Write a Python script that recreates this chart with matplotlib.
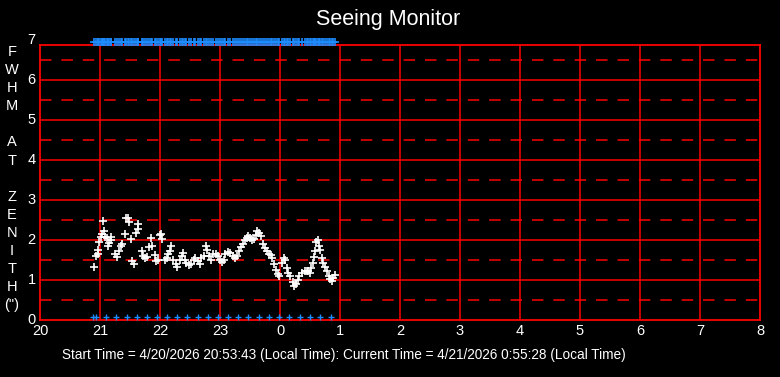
import matplotlib
matplotlib.use("Agg")
import matplotlib.pyplot as plt
import matplotlib.transforms as mtransforms

plt.rcParams['font.family'] = ['Liberation Sans', 'DejaVu Sans']

# seeing samples: local time in hours (past midnight > 24) and FWHM in arcsec
hours = [20.905, 20.93, 20.96, 20.97, 20.99, 21.01, 21.03, 21.05, 21.07, 21.09,
         21.12, 21.14, 21.15, 21.18, 21.19, 21.25, 21.28, 21.31, 21.35, 21.36,
         21.41, 21.43, 21.46, 21.49, 21.51, 21.53, 21.56, 21.60, 21.63, 21.64,
         21.70, 21.72, 21.75, 21.78, 21.81, 21.85, 21.87, 21.91, 21.93, 21.97,
         22.00, 22.02, 22.04, 22.08, 22.11, 22.14, 22.17, 22.18, 22.22, 22.26,
         22.29, 22.33, 22.36, 22.39, 22.42, 22.44, 22.48, 22.52, 22.56, 22.58,
         22.63, 22.66, 22.69, 22.73, 22.76, 22.79, 22.82, 22.85, 22.89, 22.93,
         22.96, 23.00, 23.03, 23.06, 23.09, 23.13, 23.17, 23.21, 23.25, 23.28,
         23.32, 23.35, 23.38, 23.41, 23.45, 23.47, 23.50, 23.54, 23.57, 23.60,
         23.62, 23.65, 23.68, 23.72, 23.75, 23.78, 23.81, 23.85, 23.87, 23.90,
         23.93, 23.96, 23.98, 24.03, 24.06, 24.08, 24.11, 24.14, 24.17, 24.21,
         24.24, 24.27, 24.30, 24.32, 24.36, 24.41, 24.45, 24.47, 24.50, 24.52,
         24.55, 24.57, 24.58, 24.60, 24.63, 24.65, 24.67, 24.70, 24.72, 24.75,
         24.78, 24.81, 24.83, 24.86, 24.89, 24.92]
fwhm = [1.33, 1.59, 1.66, 1.75, 1.96, 2.08, 2.14, 2.48, 2.22, 2.08,
        2.06, 1.85, 1.93, 2.07, 1.99, 1.64, 1.57, 1.72, 1.85, 1.89,
        2.14, 2.56, 2.54, 2.46, 2.03, 1.47, 1.39, 2.18, 2.27, 2.41,
        1.72, 1.59, 1.55, 1.58, 1.83, 2.06, 1.85, 1.62, 1.47, 1.49,
        2.12, 2.16, 2.03, 1.49, 1.54, 1.64, 1.72, 1.85, 1.51, 1.39,
        1.33, 1.51, 1.59, 1.68, 1.51, 1.43, 1.37, 1.39, 1.51, 1.55,
        1.47, 1.40, 1.55, 1.59, 1.85, 1.76, 1.59, 1.51, 1.64, 1.64,
        1.59, 1.51, 1.45, 1.51, 1.64, 1.70, 1.68, 1.59, 1.55, 1.61,
        1.72, 1.82, 1.89, 1.99, 2.06, 2.10, 2.06, 1.99, 2.03, 2.12,
        2.22, 2.18, 2.10, 1.89, 1.81, 1.72, 1.65, 1.62, 1.55, 1.40,
        1.26, 1.16, 1.11, 1.43, 1.55, 1.49, 1.30, 1.18, 1.09, 0.96,
        0.86, 0.90, 1.01, 1.09, 1.18, 1.22, 1.23, 1.22, 1.18, 1.30,
        1.43, 1.57, 1.72, 1.96, 2.00, 1.85, 1.76, 1.55, 1.43, 1.32,
        1.22, 1.09, 1.03, 0.98, 1.05, 1.13]

# status markers along the bottom (roughly every 10 minutes)
status_hours = [20.878, 20.933, 21.10, 21.267, 21.445, 21.622, 21.788, 21.955,
                22.122, 22.288, 22.455, 22.638, 22.805, 22.972, 23.138, 23.305,
                23.472, 23.655, 23.822, 23.988, 24.155, 24.333, 24.50, 24.667,
                24.845]
top_level = 6.95
bottom_level = 0.075

x_ticks = list(range(20, 33))
x_labels = [str(h % 24) for h in x_ticks]
y_ticks = [0, 1, 2, 3, 4, 5, 6, 7]

title = "Seeing Monitor"
ylabel_letters = ["F", "W", "H", "M", "", "A", "T", "", "Z", "E", "N", "I", "T", "H", '(")']
footer = ("Start Time = 4/20/2026 20:53:43 (Local Time): "
          "Current Time = 4/21/2026 0:55:28 (Local Time)")

fig = plt.figure(figsize=(7.8, 3.77), dpi=100, facecolor='black')
ax = fig.add_axes([40/780, 1 - 320/377, 720/780, 275/377])
ax.set_facecolor('black')
ax.set_xlim(20, 32)
ax.set_ylim(0, 6.875)

for h in x_ticks[1:-1]:
    ax.axvline(h, color='red', lw=1.1, zorder=1)
for v in range(1, 7):
    ax.axhline(v, color='red', lw=1.1, zorder=1)
for v in range(7):
    ax.axhline(v + 0.5, color='red', lw=1.1, ls=(0, (7.5, 6.5)), zorder=1)
for s in ax.spines.values():
    s.set_color('red')
    s.set_linewidth(1.3)

ax.plot(hours, fwhm, ls='none', marker='+', ms=6, mew=1.2, color='white', zorder=3)
ax.plot(hours, [top_level] * len(hours), ls='none', marker='+', ms=5.5, mew=1.2,
        color='#1E8CFF', zorder=3, clip_on=False)
ax.plot(status_hours, [bottom_level] * len(status_hours), ls='none', marker='+',
        ms=5, mew=1.0, color='#1E8CFF', zorder=3, clip_on=False)

ax.set_xticks(x_ticks)
ax.set_xticklabels(x_labels)
ax.set_yticks([])
ax.tick_params(axis='x', length=0, pad=3, colors='white', labelsize=10.5)

trans = mtransforms.blended_transform_factory(ax.transAxes, ax.transData)
for v in y_ticks:
    ax.text(-0.006, v, str(v), transform=trans, ha='right', va='center',
            color='white', fontsize=10.5, clip_on=False)

fig.text(388/780, 1 - 20/377, title, ha='center', va='center', color='white', fontsize=15.5)

for i, ch in enumerate(ylabel_letters):
    fig.text(12/780, 1 - (52 + i * 18.1)/377, ch, ha='center', va='center',
             color='white', fontsize=10.5)

fig.text(62/780, 1 - 355/377, footer, ha='left', va='center', color='white', fontsize=9.8)

fig.savefig('out.png', dpi=100, facecolor='black')
